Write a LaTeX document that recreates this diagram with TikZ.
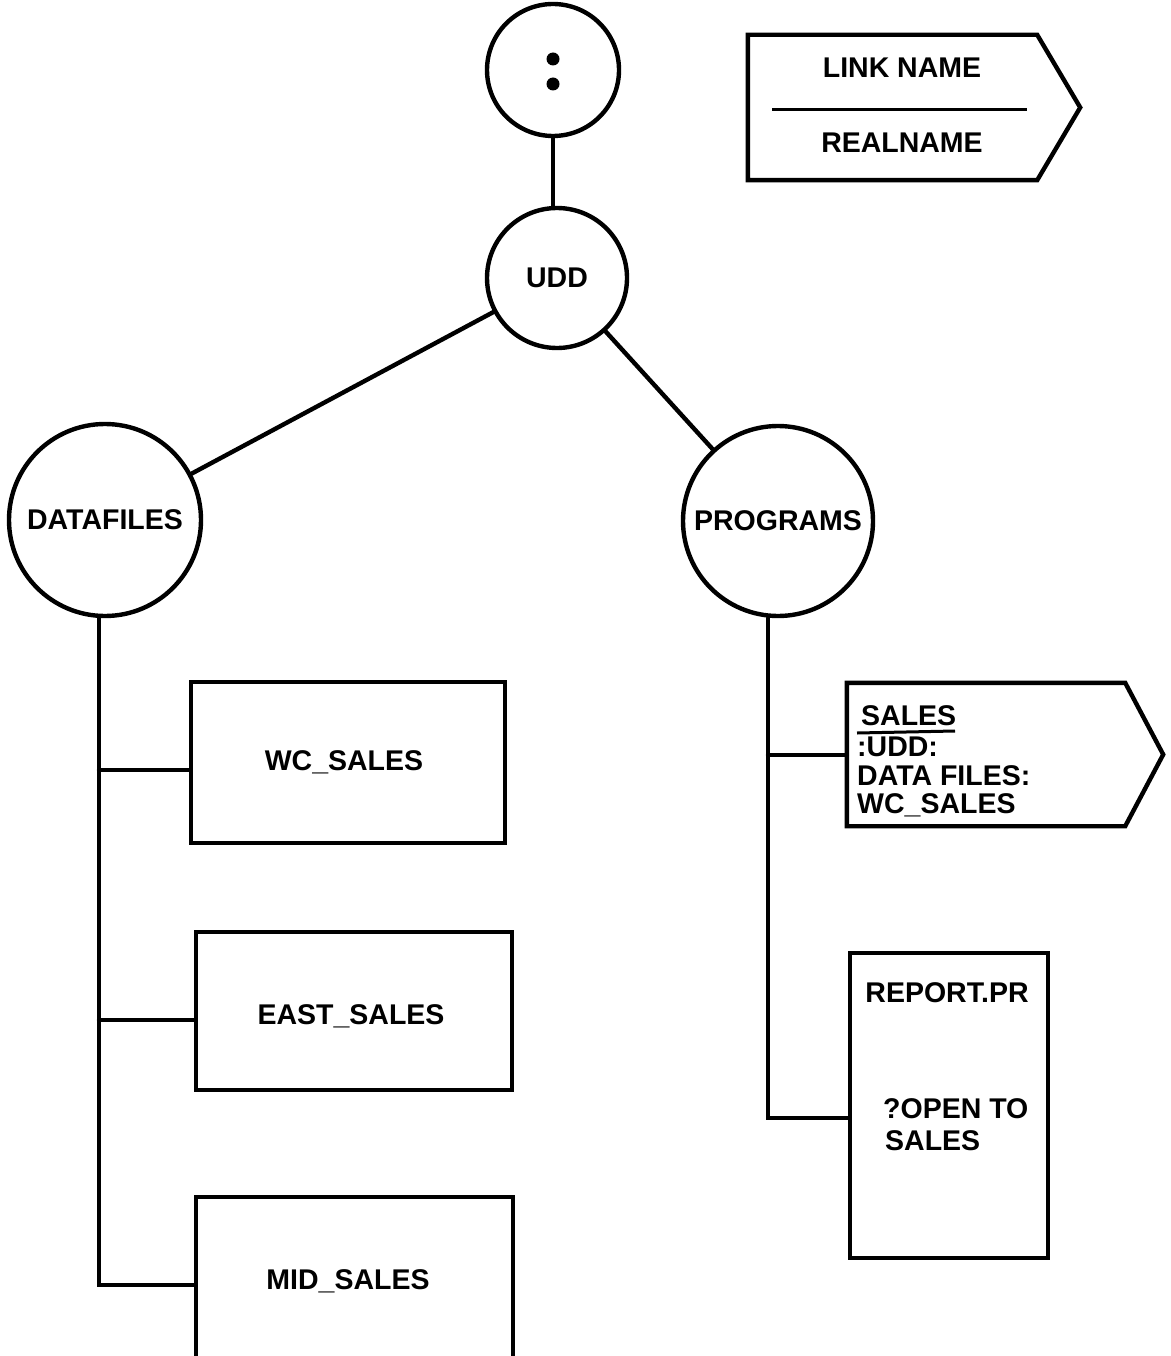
\documentclass[tikz,border=0pt]{standalone}
\usepackage{fontspec}
\setmainfont{Liberation Sans}
\usetikzlibrary{calc}
\begin{document}
\begin{tikzpicture}[x=1pt,y=-1pt,
  every node/.style={font=\bfseries\fontsize{28.5}{30}\selectfont, inner sep=0pt},
  ink/.style={line width=4.4pt},
  circ/.style={ink, draw, circle},
  filebox/.style={ink, draw, rectangle},
  body/.style={rectangle, draw=none},
  wire/.style={ink, line cap=round}]
\clip (0,0) rectangle (1170,1356);

% directory circles
\node[circ, minimum size=132pt] (root) at (553,70) {};
\fill (553,59) circle (6.5pt) (553,84) circle (6.5pt);
\node[circ, minimum size=140pt] (udd) at (557,278) {UDD};
\node[circ, minimum size=192pt] (df) at (105,520) {DATAFILES};
\node[circ, minimum size=190pt] (prog) at (778,521) {PROGRAMS};

% tree edges between directories
\draw[wire] (root) -- (root |- udd.north);
\draw[wire] (udd) -- (df);
\draw[wire] (udd) -- (prog);

% files under DATAFILES
\node[filebox, minimum width=314pt, minimum height=161pt] (wc) at (348,762.5) {};
\node (wct) at (344,762) {WC\_SALES};
\node[filebox, minimum width=316pt, minimum height=158pt] (east) at (354,1011) {};
\node (eastt) at (351,1016) {EAST\_SALES};
\node[filebox, minimum width=317pt, minimum height=172pt] (mid) at (354.5,1283) {};
\node (midt) at (348,1281) {MID\_SALES};

\coordinate (dj1) at (99,770);
\coordinate (dj2) at (99,1020);
\coordinate (dj3) at (99,1285);
\draw[wire] (dj3 |- df.south) -- (dj3) -- (dj3 -| mid.west);
\draw[wire] (dj1) -- (dj1 -| wc.west);
\draw[wire] (dj2) -- (dj2 -| east.west);

% files under PROGRAMS
\node[body, minimum width=278pt, minimum height=143pt] (sales) at (986,754.5) {};
\draw[ink, line join=miter] (sales.north west) -- (sales.north east) -- ($(sales.east)+(38,0)$)
  -- (sales.south east) -- (sales.south west) -- cycle;
\node[anchor=base west] (s1) at (861,725) {SALES};
\node[anchor=base west] (s2) at (857,756) {:UDD:};
\node[anchor=base west] (s3) at (857,785) {DATA FILES:};
\node[anchor=base west] (s4) at (857,813) {WC\_SALES};
\draw[line width=3pt] (857,733) -- (955,731);

\node[filebox, minimum width=198pt, minimum height=305pt] (rep) at (949,1105.5) {};
\node[anchor=base] (r1) at (947,1002) {REPORT.PR};
\node[anchor=base west] (r2) at (883,1118) {?OPEN TO};
\node[anchor=base west] (r3) at (885,1150) {SALES};

\coordinate (pj1) at (768,755);
\coordinate (pj2) at (768,1118);
\draw[wire] (pj2 |- prog.south) -- (pj2) -- (pj2 -| rep.west);
\draw[wire] (pj1) -- (pj1 -| sales.west);

% legend: link entry
\node[body, minimum width=289pt, minimum height=145pt] (link) at (892.5,107.5) {};
\draw[ink, line join=miter] (link.north west) -- (link.north east) -- ($(link.east)+(43,0)$)
  -- (link.south east) -- (link.south west) -- cycle;
\node (ln) at (902,68) {LINK NAME};
\node (rn) at (902,143) {REALNAME};
\draw[line width=3pt] (772,110) -- (1027,110);
\end{tikzpicture}
\end{document}
